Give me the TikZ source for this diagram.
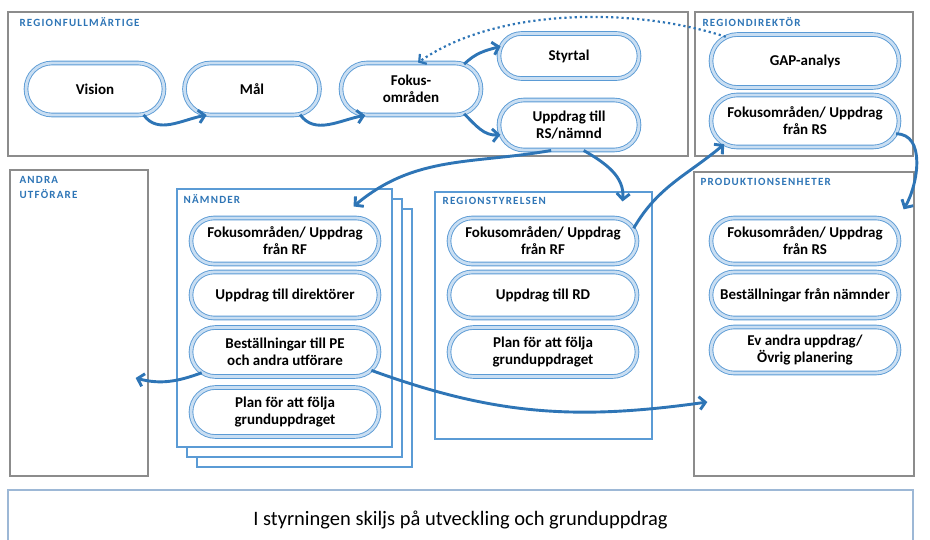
\documentclass[tikz,border=0pt]{standalone}
\usepackage{fontspec}
\setmainfont{Carlito}
\usetikzlibrary{shapes.misc,arrows.meta,positioning}
\definecolor{pillblue}{HTML}{5B9BD5}
\definecolor{pilllight}{HTML}{C9DEF2}
\definecolor{arrowblue}{HTML}{2E75B6}
\definecolor{framegray}{HTML}{8C8C8C}
\definecolor{framebottom}{HTML}{9DB8D6}

\begin{document}
\begin{tikzpicture}[x=1pt,y=-1pt,
  pill/.style={rounded rectangle, draw=pillblue, double=pilllight, double distance=2.8pt,
    line width=0.9pt, fill=white, align=center, inner sep=1pt,
    font=\fontsize{15}{17}\selectfont\bfseries, minimum width=142pt, minimum height=50pt},
  widepill/.style={pill, minimum width=190pt, minimum height=46pt},
  grpbox/.style={draw=framegray, line width=1.3pt, inner sep=0pt},
  bluebox/.style={draw=pillblue, line width=1.1pt, fill=white, inner sep=0pt},
  lbl/.style={text=arrowblue, inner sep=0pt, align=left,
    font=\fontsize{11}{15}\selectfont\bfseries\addfontfeature{LetterSpace=11}},
  flow/.style={draw=arrowblue, line width=2.9pt, -{Straight Barb[length=6pt,width=13pt]}},
  dotflow/.style={draw=arrowblue, line width=2.2pt, dash pattern=on 2.2pt off 3pt,
    -{Straight Barb[length=5pt,width=12pt]}}]
\useasboundingbox (0,0) rectangle (930,539);

% group boxes
\node[grpbox, minimum width=680pt, minimum height=144pt] (rf) at (348,84) {};
\node[grpbox, minimum width=218pt, minimum height=144pt] (rd) at (804,84) {};
\node[grpbox, minimum width=138pt, minimum height=306pt] (andra) at (79,323) {};
\foreach \s in {20,10} % stacked sheets behind NAMNDER
\node[bluebox, minimum width=215pt, minimum height=258pt] at (284.5+\s,318+\s) {};
\node[bluebox, minimum width=215pt, minimum height=258pt] (nam) at (284.5,318) {};
\node[bluebox, minimum width=217pt, minimum height=247pt] (rs) at (543.5,315.5) {};
\node[grpbox, minimum width=220pt, minimum height=304pt] (pe) at (804,324) {};
\node[draw=framebottom, line width=1.3pt, minimum width=905pt, minimum height=60pt,
  font=\fontsize{20.5}{24}\selectfont] (note) at (460.5,520)
  {I styrningen skiljs på utveckling och grunduppdrag};

% box titles
\node[lbl, below right=6pt and 12pt of rf.north west] (rfname) {REGIONFULLMÄRTIGE};
\node[lbl, below right=6pt and 8pt of rd.north west] (rdname) {REGIONDIREKTÖR};
\node[lbl, below right=7pt and 10pt of andra.north west] (andraname) {ANDRA\\UTFÖRARE};
\node[lbl, below right=6pt and 7pt of nam.north west] (namname) {NÄMNDER};
\node[lbl, below right=6pt and 8pt of rs.north west] (rsname) {REGIONSTYRELSEN};
\node[lbl, below right=7pt and 7pt of pe.north west] (pename) {PRODUKTIONSENHETER};

% top row
\node[pill, minimum width=140pt, minimum height=52pt] (vision) at (95,89) {Vision};
\node[pill, minimum width=137pt, minimum height=52pt] (mal) at (252,89) {Mål};
\node[pill, minimum height=52pt] (fokus) at (411,89) {Fokus-\\områden};
\node[pill, minimum height=45pt] (styrtal) at (569,56) {Styrtal};
\node[pill] (upprs) at (569,125) {Uppdrag till\\RS/nämnd};
\node[widepill, minimum height=53pt] (gap) at (805,61) {GAP-analys};
\node[widepill, minimum height=52pt] (rdfok) at (805,121) {Fokusområden/ Uppdrag\\från RS};

% namnder
\node[widepill] (namfok) at (285,241) {Fokusområden/ Uppdrag\\från RF};
\node[widepill] (namupp) at (285,295) {Uppdrag till direktörer};
\node[widepill, minimum height=49pt] (best) at (285,352) {Beställningar till PE\\och andra utförare};
\node[widepill, minimum height=49pt] (namplan) at (285,412) {Plan för att följa\\grunduppdraget};

% regionstyrelsen
\node[widepill] (rsfok) at (543,241) {Fokusområden/ Uppdrag\\från RF};
\node[widepill] (rsupp) at (543,295) {Uppdrag till RD};
\node[widepill, minimum height=49pt] (rsplan) at (543,352) {Plan för att följa\\grunduppdraget};

% produktionsenheter
\node[widepill] (pefok) at (805,241) {Fokusområden/ Uppdrag\\från RS};
\node[widepill] (pebest) at (805,295) {Beställningar från nämnder};
\node[widepill] (peev) at (805,350) {Ev andra uppdrag/\\Övrig planering};

% arrows
\draw[flow] (vision.-28) to[out=-55,in=190] (mal.-150);
\draw[flow] (mal.-28) to[out=-55,in=190] (fokus.-150);
\draw[flow] (fokus.25) to[out=45,in=195] (styrtal.172);
\draw[flow] (fokus.-25) to[out=-45,in=185] (upprs.188);
\draw[dotflow] (gap.163) to[out=162,in=35,looseness=0.8] (fokus.75);
\draw[flow] (upprs.-125) to[out=190,in=40] ([shift={(-39,18)}]nam.north east);
\draw[flow] (upprs.-60) to[out=-30,in=85] ([shift={(-30,10)}]rs.north east);
\draw[flow] (rsfok.8) to[out=60,in=220] (rdfok.-164);
\draw[flow] (rdfok.-8) to[out=0,in=60] ([shift={(-11,38)}]pe.north east);
\draw[flow] (best.-166) to[out=200,in=-15] ([shift={(-13,55)}]andra.east);
\draw[flow] (best.-12) to[out=-20,in=188] ([shift={(14,78)}]pe.west);
\end{tikzpicture}
\end{document}
